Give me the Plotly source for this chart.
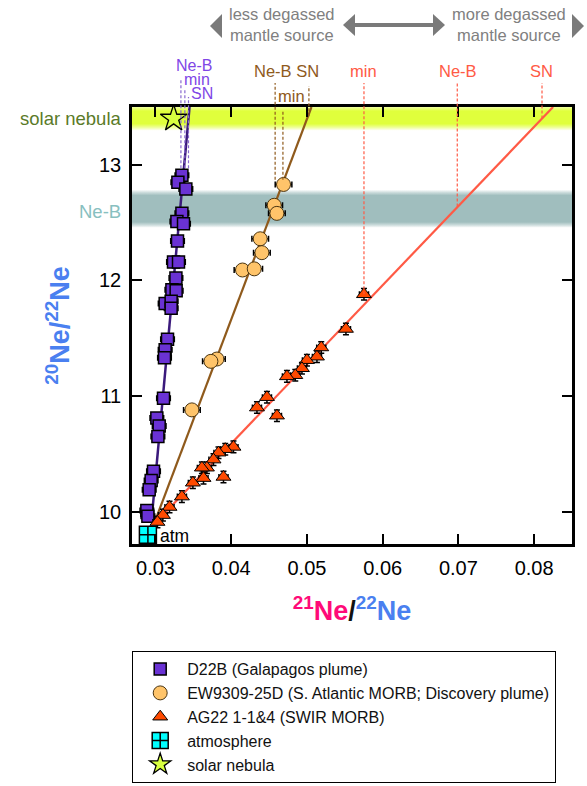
import plotly.graph_objects as go

# ---- measured neon isotope ratios -------------------------------------------
# D22B (Galapagos plume)
d22b_x = [0.03349, 0.03296, 0.03401, 0.03349, 0.03283, 0.03370, 0.03291, 0.03238,
          0.03304, 0.03270, 0.03217, 0.03273, 0.03128, 0.03207, 0.03207, 0.03159,
          0.03128, 0.03119, 0.03106, 0.03018, 0.03049, 0.03032, 0.02974, 0.02943,
          0.02917, 0.02886, 0.02900]
d22b_y = [12.91, 12.85, 12.79, 12.58, 12.51, 12.49, 12.34, 12.16,
          12.16, 12.02, 11.92, 11.91, 11.80, 11.82, 11.76, 11.49,
          11.40, 11.33, 10.98, 10.81, 10.74, 10.65, 10.35, 10.27,
          10.19, 10.01, 9.96]

# EW9309-25D (S. Atlantic MORB; Discovery plume)
ew_x = [0.04691, 0.04568, 0.04603, 0.04383, 0.04405, 0.04149, 0.04304,
        0.03811, 0.03732, 0.03481]
ew_y = [12.83, 12.65, 12.58, 12.36, 12.24, 12.09, 12.10,
        11.32, 11.30, 10.88]

# AG22 1-1&4 (SWIR MORB)
ag_x = [0.05753, 0.05515, 0.05189, 0.05132, 0.05000, 0.04934, 0.04846, 0.04736,
        0.04472, 0.04340, 0.04604, 0.04030, 0.03921, 0.03832, 0.03766, 0.03679,
        0.03613, 0.03898, 0.03634, 0.03494, 0.03349, 0.03185, 0.03098, 0.03026]
ag_y = [11.88, 11.58, 11.42, 11.34, 11.31, 11.24, 11.18, 11.17,
        10.99, 10.90, 10.83, 10.56, 10.54, 10.51, 10.45, 10.38,
        10.38, 10.30, 10.29, 10.25, 10.13, 10.04, 9.97, 9.91]

# reference compositions
atm_x, atm_y = [0.0290], [9.80]
sn_x, sn_y = [0.0324], [13.40]

# mixing lines (end points)
d22b_line_x, d22b_line_y = [0.02952, 0.0345], [9.955, 13.5]
ew_line_x, ew_line_y = [0.0299, 0.0506], [9.91, 13.5]
ag_line_x, ag_line_y = [0.0298, 0.0825], [9.89, 13.5]

# extrapolated 21Ne/22Ne of the mantle source (Ne-B, min, SN) and the
# 20Ne/22Ne where each marker line starts
d22b_ext_x = [0.03336, 0.03388, 0.03436]
d22b_ext_y = [12.97, 12.97, 12.97]
ew_ext_x = [0.0458, 0.04683, 0.05026]
ew_ext_y = [12.87, 12.87, 13.42]
ag_ext_x = [0.05753, 0.06985, 0.08104]
ag_ext_y = [11.88, 12.64, 13.40]

# bands: (centre, half width) in 20Ne/22Ne
neb_band = (12.62, 0.115)
sn_band = (13.41, 0.055)

x_ticks = [0.03, 0.04, 0.05, 0.06, 0.07, 0.08]
y_ticks = [10, 11, 12, 13]
x_range = [0.0269, 0.0850]
y_range = [9.72, 13.50]

# ---- colours ------------------------------------------------------------------
PURPLE = "#6a32d4"
PURPLE_LINE = "#3b1a7c"
PURPLE_TXT = "#8046e6"
BROWN = "#8f5a1c"
ORANGE = "#ffc46a"
RED = "#ff5a45"
RED_FILL = "#ff4a00"
GRAY = "#808080"
FONT = "Liberation Sans, Arial, sans-serif"

# plot area in pixels (for decorations placed outside the axes)
W, H = 587, 786
ML, MR, MT, MB = 132, 15, 107, 242
PW, PH = W - ML - MR, H - MT - MB


def px(x):
    return (x - ML) / PW


def py(y):
    return (H - MB - y) / PH


def ypaper(v):
    return (v - y_range[0]) / (y_range[1] - y_range[0])


fig = go.Figure()


# blurred horizontal bands drawn with a vertical fill gradient
def add_band(center, half, fade, rgb):
    lo, hi = center - half - fade, center + half + fade
    span = hi - lo
    a, b = fade / span, (fade + 2 * half) / span
    c0 = f"rgba({rgb},0)"
    c1 = f"rgba({rgb},1)"
    fig.add_trace(go.Scatter(
        x=[x_range[0], x_range[1], x_range[1], x_range[0], x_range[0]],
        y=[lo, lo, hi, hi, lo],
        mode="lines", line=dict(width=0), fill="toself",
        fillgradient=dict(type="vertical",
                          colorscale=[[0, c0], [a * 0.5, f"rgba({rgb},0.55)"], [a, c1],
                                      [b, c1], [b + (1 - b) * 0.5, f"rgba({rgb},0.55)"], [1, c0]]),
        hoverinfo="skip", showlegend=False))


add_band(neb_band[0], neb_band[1], 0.05, "160,190,190")
add_band(sn_band[0], sn_band[1], 0.06, "224,255,60")

# mixing lines
for lx, ly, col, w in [(d22b_line_x, d22b_line_y, PURPLE_LINE, 2.5),
                       (ew_line_x, ew_line_y, BROWN, 2.2),
                       (ag_line_x, ag_line_y, RED, 2.2)]:
    fig.add_trace(go.Scatter(x=lx, y=ly, mode="lines", line=dict(color=col, width=w),
                             hoverinfo="skip", showlegend=False))

err_style = dict(color="black", thickness=1.5, width=3)

fig.add_trace(go.Scatter(
    x=d22b_x, y=d22b_y, mode="markers", name="D22B (Galapagos plume)",
    marker=dict(symbol="square", size=12, color=PURPLE, line=dict(color="black", width=1.5)),
    error_x=dict(type="constant", value=0.0009, **err_style),
    error_y=dict(type="constant", value=0.04, **err_style)))

fig.add_trace(go.Scatter(
    x=ew_x, y=ew_y, mode="markers", name="EW9309-25D (S. Atlantic MORB; Discovery plume)",
    marker=dict(symbol="circle", size=14, color=ORANGE, line=dict(color="#4a3410", width=1)),
    error_x=dict(type="constant", value=0.0011, **err_style),
    error_y=dict(type="constant", value=0.03, **err_style)))

fig.add_trace(go.Scatter(
    x=ag_x, y=ag_y, mode="markers", name="AG22 1-1&4 (SWIR MORB)",
    marker=dict(symbol="triangle-up", size=13, color=RED_FILL, line=dict(color="black", width=1)),
    error_x=dict(type="constant", value=0.0006, **err_style),
    error_y=dict(type="constant", value=0.05, **err_style)))

fig.add_trace(go.Scatter(
    x=atm_x, y=atm_y, mode="markers", name="atmosphere",
    marker=dict(symbol="square-cross", size=17, color="#00ffff", line=dict(color="black", width=1.5))))

fig.add_trace(go.Scatter(
    x=sn_x, y=sn_y, mode="markers", name="solar nebula",
    marker=dict(symbol="star", size=20, color="#d8ff40", line=dict(color="black", width=1.3))))

shapes = []
annotations = []

# dashed extrapolation lines up to the labels above the frame
for xs, ys, tops, col in [(d22b_ext_x, d22b_ext_y, [79, 90, 97], "#8a6ad0"),
                          (ew_ext_x, ew_ext_y, [83, 110, 86], BROWN),
                          (ag_ext_x, ag_ext_y, [83, 83, 83], RED)]:
    for xv, yv, top in zip(xs, ys, tops):
        shapes.append(dict(type="line", xref="x", yref="paper", x0=xv, x1=xv,
                           y0=ypaper(yv), y1=py(top),
                           line=dict(color=col, width=1.2, dash="3px,2px")))


def label(text, x, y, color, size=16.5, xanchor="center"):
    annotations.append(dict(text=text, xref="paper", yref="paper", x=px(x), y=py(y),
                            xanchor=xanchor, yanchor="middle", showarrow=False,
                            font=dict(family=FONT, size=size, color=color)))


label("Ne-B", 193.5, 65, PURPLE_TXT, size=16)
label("min", 197, 79.5, PURPLE_TXT, size=16)
label("SN", 201.5, 93, PURPLE_TXT, size=16)
label("Ne-B SN", 286.7, 71, BROWN)
label("min", 291.5, 96, BROWN)
label("min", 363.7, 71, RED)
label("Ne-B", 457.5, 71, RED)
label("SN", 541.7, 71, RED)

# band names to the left of the frame
label("solar nebula", 124, 118, "#5a7a28", size=18.5, xanchor="right")
label("Ne-B", 123, 211, "#88c0c0", size=18.5, xanchor="right")

# degassing direction header
label("less degassed<br>mantle source", 282, 24, GRAY, size=16.5)
label("more degassed<br>mantle source", 509, 24, GRAY, size=16.5)


def tri(p1, p2, p3):
    return dict(type="path", xref="paper", yref="paper",
                path=f"M{px(p1[0])},{py(p1[1])} L{px(p2[0])},{py(p2[1])} L{px(p3[0])},{py(p3[1])} Z",
                fillcolor="#7a7a7a", line=dict(width=0))


shapes.append(tri((210, 26), (222, 14), (222, 38)))
shapes.append(tri((584, 26), (572, 14), (572, 38)))
shapes.append(tri((343, 25), (355, 14), (355, 36)))
shapes.append(tri((445, 25), (433, 14), (433, 36)))
shapes.append(dict(type="line", xref="paper", yref="paper", x0=px(353), x1=px(435),
                   y0=py(25), y1=py(25), line=dict(color="#7a7a7a", width=4)))

# atmosphere label
annotations.append(dict(text="atm", x=atm_x[0], y=atm_y[0], xref="x", yref="y",
                        xanchor="left", yanchor="middle", xshift=10, yshift=-1,
                        showarrow=False, font=dict(family=FONT, size=17.5, color="black")))

axis_common = dict(showline=True, linecolor="black", linewidth=2.5, mirror="ticks",
                   ticks="inside", ticklen=10, tickwidth=2, tickcolor="black",
                   showgrid=False, zeroline=False,
                   tickfont=dict(family=FONT, size=20, color="black"))

fig.update_layout(
    width=W, height=H,
    margin=dict(l=ML, r=MR, t=MT, b=MB, autoexpand=False),
    paper_bgcolor="white", plot_bgcolor="white",
    font=dict(family=FONT),
    xaxis=dict(range=x_range, tickvals=x_ticks, ticktext=[f"{v:.2f}" for v in x_ticks],
               ticklabelstandoff=4,
               title=dict(text='<b><span style="color:#ff0a78"><sup>21</sup>Ne</span>'
                               '<span style="color:#111">/</span>'
                               '<span style="color:#4a80f0"><sup>22</sup>Ne</span></b>',
                          font=dict(family=FONT, size=27), standoff=24),
               **axis_common),
    yaxis=dict(range=y_range, tickvals=y_ticks, ticktext=[str(v) for v in y_ticks],
               ticklabelstandoff=4,
               title=dict(text="<b><sup>20</sup>Ne/<sup>22</sup>Ne</b>",
                          font=dict(family=FONT, size=27, color="#4a80f0"), standoff=22),
               **axis_common),
    legend=dict(x=px(132), y=py(651), xanchor="left", yanchor="top",
                bordercolor="black", borderwidth=1.2, bgcolor="white",
                itemwidth=44, font=dict(family=FONT, size=16, color="#111")),
    shapes=shapes,
    annotations=annotations,
)

fig.write_html("out.html")
